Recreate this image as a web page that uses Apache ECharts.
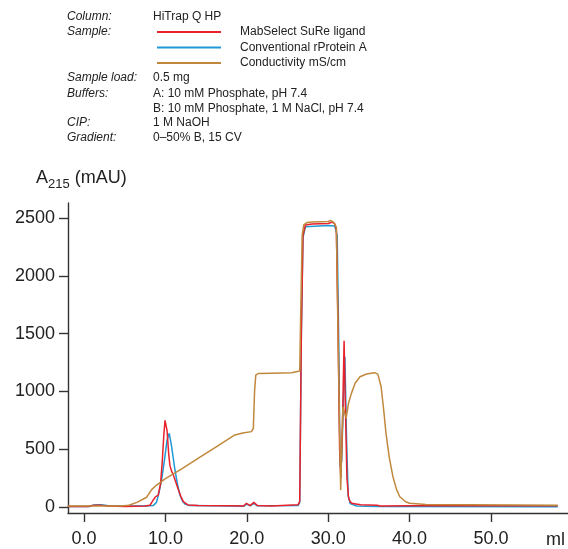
<!DOCTYPE html>
<html>
<head>
<meta charset="utf-8">
<script src="https://cdn.jsdelivr.net/npm/echarts@6/dist/echarts.min.js"></script>
<style>html,body{margin:0;padding:0;background:#fff}#c{width:568px;height:549px}</style>
</head>
<body>
<div id="c"></div>
<script>
// ---- data ----
var seriesNames = ['MabSelect SuRe ligand', 'Conventional rProtein A', 'Conductivity mS/cm'];
var xTicks = [0, 10, 20, 30, 40, 50];
var yTicks = [0, 500, 1000, 1500, 2000, 2500];

var mabX = [-2, 0.5, 1.0, 1.5, 2.2, 3.0, 5, 7.5, 8.1, 8.5, 8.8, 9.1, 9.4, 9.6, 9.8, 9.95, 10.05, 10.2, 10.4, 10.55, 10.75, 10.96, 11.3, 11.6, 11.9, 12.2, 12.8, 14, 18, 19.6, 19.96, 20.4, 20.86, 21.3, 23, 26.3, 26.5, 26.7, 26.9, 27.2, 28, 30, 30.5, 30.8, 31.0, 31.2, 31.4, 31.55, 31.75, 31.95, 32.1, 32.3, 32.5, 32.7, 33, 34, 36, 36.4, 40, 58.2];
var mabY = [5, 5, 12, 15, 14, 8, 5, 8, 15, 60, 90, 100, 200, 380, 620, 750, 760, 660, 460, 360, 310, 280, 210, 147, 90, 46, 17, 12, 10, 8, 32, 12, 40, 12, 8, 20, 50, 1500, 2350, 2440, 2448, 2452, 2465, 2450, 2400, 1600, 500, 250, 700, 1438, 900, 250, 80, 45, 30, 20, 15, 8, 10, 10];

var conX = [-2, 0.8, 1.2, 2.0, 2.6, 3.2, 7.5, 8.5, 8.9, 9.2, 9.53, 9.94, 10.2, 10.47, 10.76, 11.17, 11.5, 11.78, 12.1, 12.4, 13, 18, 19.6, 19.96, 20.4, 20.86, 21.3, 26.3, 26.5, 26.7, 26.9, 27.2, 30, 30.8, 31.1, 31.3, 31.45, 31.65, 31.9, 32.05, 32.25, 32.45, 32.7, 33.5, 36, 58.2];
var conY = [5, 5, 18, 20, 15, 8, 8, 12, 40, 120, 234, 435, 580, 637, 522, 320, 190, 104, 50, 26, 12, 8, 6, 25, 10, 32, 10, 12, 40, 1500, 2330, 2425, 2435, 2430, 2350, 1400, 350, 400, 1000, 1300, 600, 100, 30, 8, 5, 3];

var cndX = [-2, 4.5, 5.5, 6.5, 7.69, 8.3, 8.92, 10, 12, 14, 16, 18.53, 19.5, 20.57, 20.8, 20.95, 21.1, 21.4, 23, 25.5, 26.5, 26.6, 26.8, 27.0, 27.4, 28, 30, 30.3, 30.7, 31.0, 31.2, 31.53, 31.8, 32.0, 32.2, 32.5, 32.85, 33.3, 33.9, 34.7, 35.7, 36.1, 36.5, 36.8, 37.1, 37.5, 37.95, 38.4, 38.8, 39.5, 40, 42, 58.2];
var cndY = [8, 8, 15, 40, 84, 150, 190, 245, 330, 420, 510, 623, 640, 652, 680, 1000, 1140, 1155, 1158, 1162, 1176, 1600, 2350, 2440, 2462, 2465, 2470, 2480, 2460, 2420, 1500, 147, 868, 820, 767, 900, 983, 1070, 1127, 1150, 1162, 1150, 1040, 850, 637, 430, 262, 150, 89, 45, 32, 22, 15];

function pairs(xs, ys) { return xs.map(function (x, i) { return [x, ys[i]]; }); }

var colors = { mab: '#e8212b', con: '#1f9ad6', cnd: '#c0883c' };
var txt = '#222';
var font = 'Liberation Sans, Arial, Helvetica, sans-serif';

var chart = echarts.init(document.getElementById('c'), null, { renderer: 'canvas' });

function label(x, y, s, italic) {
  return { type: 'text', left: x, top: y - 7, style: { text: s, fill: txt, font: (italic ? 'italic ' : '') + '12px ' + font } };
}

var graphics = [
  label(67, 18, 'Column:', true), label(153, 18, 'HiTrap Q HP'),
  label(67, 33, 'Sample:', true),
  label(67, 79, 'Sample load:', true), label(153, 79, '0.5 mg'),
  label(67, 95, 'Buffers:', true), label(153, 95, 'A: 10 mM Phosphate, pH 7.4'),
  label(153, 110, 'B: 10 mM Phosphate, 1 M NaCl, pH 7.4'),
  label(67, 124, 'CIP:', true), label(153, 124, '1 M NaOH'),
  label(67, 139, 'Gradient:', true), label(153, 139, '0\u201350% B, 15 CV'),
  {
    type: 'text', left: 36, top: 169,
    style: {
      text: '{a|A}{s|215}{a| (mAU)}',
      fill: txt,
      rich: {
        a: { fontSize: 18, fontFamily: font, fill: txt, lineHeight: 22, verticalAlign: 'bottom' },
        s: { fontSize: 13, fontFamily: font, fill: txt, lineHeight: 22, verticalAlign: 'bottom', padding: [0, 0, -4, 0] }
      }
    }
  },
  { type: 'text', left: 546, top: 531, style: { text: 'ml', fill: txt, font: '18px ' + font } }
];

chart.setOption({
  animation: false,
  backgroundColor: '#fff',
  color: [colors.con, colors.mab, colors.cnd],
  legend: {
    orient: 'vertical', left: 152, top: 20,
    data: seriesNames,
    icon: 'rect', itemWidth: 64, itemHeight: 2, itemGap: 1.5,
    textStyle: { color: txt, fontSize: 12, fontFamily: font, lineHeight: 14, padding: [0, 0, 0, 14] },
    selectedMode: false
  },
  graphic: graphics,
  grid: { left: 68, right: 0, top: 203, bottom: 36, containLabel: false, outerBoundsMode: 'none' },
  xAxis: {
    type: 'value', min: -1.97, max: 59.46,
    axisLine: { show: true, onZero: false, lineStyle: { color: '#333', width: 1.4 } },
    axisTick: { show: true, length: 9, lineStyle: { color: '#333', width: 1.4 }, customValues: xTicks },
    axisLabel: { customValues: xTicks, margin: 17, color: txt, fontSize: 18, fontFamily: font, formatter: function (v) { return v.toFixed(1); } },
    splitLine: { show: false }
  },
  yAxis: {
    type: 'value', min: -52, max: 2630,
    axisLine: { show: true, onZero: false, lineStyle: { color: '#333', width: 1.4 } },
    axisTick: { show: true, length: 9, lineStyle: { color: '#333', width: 1.4 }, customValues: yTicks },
    axisLabel: { customValues: yTicks, margin: 13, color: txt, fontSize: 18, fontFamily: font, formatter: function (v) { return String(v); } },
    splitLine: { show: false }
  },
  series: [
    { name: seriesNames[1], type: 'line', data: pairs(conX, conY), showSymbol: false, symbol: 'none', lineStyle: { width: 1.5, color: colors.con }, itemStyle: { color: colors.con } },
    { name: seriesNames[0], type: 'line', data: pairs(mabX, mabY), showSymbol: false, symbol: 'none', lineStyle: { width: 1.5, color: colors.mab }, itemStyle: { color: colors.mab } },
    { name: seriesNames[2], type: 'line', data: pairs(cndX, cndY), showSymbol: false, symbol: 'none', lineStyle: { width: 1.5, color: colors.cnd }, itemStyle: { color: colors.cnd } }
  ]
});
</script>
</body>
</html>
